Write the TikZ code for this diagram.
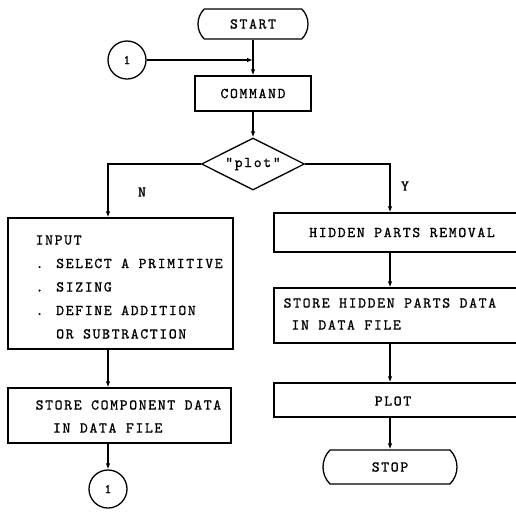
\documentclass[tikz,border=0pt]{standalone}
\usepackage{fontspec}
\newfontfamily\tw[LetterSpace=11,FakeBold=1]{lmmono10-regular.otf}
\usetikzlibrary{shapes.misc,shapes.geometric,arrows.meta}
\begin{document}
\begin{tikzpicture}[x=1pt,y=-1pt,
  line width=1.3pt,
  every node/.style={font=\tw\fontsize{15}{22}\selectfont, inner sep=0pt, line width=1.3pt},
  box/.style={draw, rectangle},
  term/.style={draw, rounded rectangle, rounded rectangle arc length=90},
  conn/.style={draw, circle, minimum size=38pt},
  decision/.style={draw, diamond, shape aspect=2, minimum width=103pt, minimum height=52pt},
  arr/.style={-{Latex[length=6pt,width=4.5pt]}},
  txt/.style={align=left, anchor=west}
]
\useasboundingbox (0,0) rectangle (516,512);
\clip (0,0) rectangle (516,512);

% centre column
\node[term, minimum width=110pt, minimum height=30pt] (start) at (253,24) {START};
\node[conn, font=\tw\fontsize{13}{15}\selectfont] (c1) at (127,60) {1};
\node[box, minimum width=116pt, minimum height=35pt] (cmd) at (253,93.5) {COMMAND};
\node[decision] (dec) at (253,164) {"plot"};

% left column
\node[box, minimum width=225pt, minimum height=131pt] (input) at (120.5,283.5) {};
\node[txt, font=\tw\fontsize{15}{23.5}\selectfont] (inputtxt) at (35,287)
  {INPUT\\. SELECT A PRIMITIVE\\. SIZING\\. DEFINE ADDITION\\\phantom{. }OR SUBTRACTION};
\node[box, minimum width=223pt, minimum height=55pt] (storec) at (119.5,415.5) {};
\node[txt, font=\tw\fontsize{15}{23}\selectfont] (storectxt) at (35,416.5)
  {STORE COMPONENT DATA\\\phantom{ST}IN DATA FILE};
\node[conn, font=\tw\fontsize{13}{15}\selectfont] (c2) at (108,489) {1};

% right column
\node[box, minimum width=256pt, minimum height=39pt] (hid) at (402,232.5) {HIDDEN PARTS REMOVAL};
\node[box, minimum width=256pt, minimum height=55pt] (storeh) at (402,315.5) {};
\node[txt] (storehtxt) at (283,314) {STORE HIDDEN PARTS DATA\\\phantom{S}IN DATA FILE};
\node[box, minimum width=256pt, minimum height=34pt] (plot) at (402,400) {};
\node (plottxt) at (393,401) {PLOT};
\node[term, minimum width=134pt, minimum height=34pt] (stop) at (390,467) {STOP};

% branch labels
\node (nlab) at (142,192) {N};
\node (ylab) at (405,186) {Y};

% connectors
\coordinate (j) at (start.south |- c1.east);
\draw[arr] (start.south) -- (start.south |- cmd.north);
\draw[arr] (c1.east) -- (j);
\draw[arr] (cmd.south) -- (dec.north);
\draw[arr] (dec.west) -| (c2 |- input.north);
\draw[arr] (dec.east) -| (stop |- hid.north);
\draw[arr] (c2 |- input.south) -- (c2 |- storec.north);
\draw[arr] (c2 |- storec.south) -- (c2.north);
\draw[arr] (stop |- hid.south) -- (stop |- storeh.north);
\draw[arr] (stop |- storeh.south) -- (stop |- plot.north);
\draw[arr] (stop |- plot.south) -- (stop.north);
\end{tikzpicture}
\end{document}
